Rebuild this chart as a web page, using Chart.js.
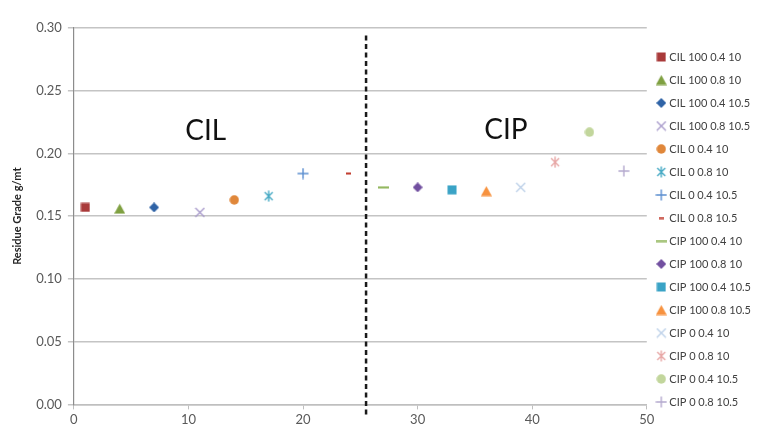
<!DOCTYPE html>
<html>
<head>
<meta charset="utf-8">
<script src="https://cdn.jsdelivr.net/npm/chart.js@4/dist/chart.umd.min.js"></script>
<style>
  html, body { margin: 0; padding: 0; background: #fff; }
  #wrap { width: 774px; height: 435px; }
</style>
</head>
<body>
<div id="wrap"><canvas id="chart"></canvas></div>
<script>
// Chart data
const seriesNames = [
    'CIL 100 0.4 10', 'CIL 100 0.8 10', 'CIL 100 0.4 10.5', 'CIL 100 0.8 10.5',
    'CIL 0 0.4 10', 'CIL 0 0.8 10', 'CIL 0 0.4 10.5', 'CIL 0 0.8 10.5',
    'CIP 100 0.4 10', 'CIP 100 0.8 10', 'CIP 100 0.4 10.5', 'CIP 100 0.8 10.5',
    'CIP 0 0.4 10', 'CIP 0 0.8 10', 'CIP 0 0.4 10.5', 'CIP 0 0.8 10.5'
];
const runIndex = [1, 4, 7, 11, 14, 17, 20, 24, 27, 30, 33, 36, 39, 42, 45, 48];
const residueGrade = [0.157, 0.156, 0.157, 0.153, 0.163, 0.166, 0.184, 0.184,
                      0.173, 0.173, 0.171, 0.170, 0.173, 0.193, 0.217, 0.186];
const dividerX = 25.5;
const yTicks = [0, 0.05, 0.10, 0.15, 0.20, 0.25, 0.30];
const xTicks = [0, 10, 20, 30, 40, 50];

// marker styles per series
const seriesColors = [
    '#A93A3A', '#7FA041', '#2F63A6', '#A89BCB', '#E0873A', '#45A9C4', '#5B8ED0', '#C0392B',
    '#8DB457', '#7250A0', '#3AA3C6', '#F7923F', '#BCD0E8', '#E7A6A5', '#C2D69C', '#B4A9CE'
];
const seriesMarkers = [
    'square', 'triangle', 'diamond', 'x', 'circle', 'asterisk', 'plus', 'dashSmall',
    'dash', 'diamond', 'square', 'triangle', 'x', 'asterisk', 'circle', 'plus'
];

const FONT = 'Lato, "Open Sans", sans-serif';

// Excel-like marker glyphs, used for both points and legend
function markerCanvas(kind, color) {
    const sizes = { square: 10, triangle: 11, diamond: 10, x: 11, circle: 10,
                    asterisk: 12, plus: 12, dash: 11, dashSmall: 5 };
    const s = sizes[kind];
    const c = document.createElement('canvas');
    c.width = s;
    c.height = (kind === 'dash' || kind === 'dashSmall') ? 3 : s;
    const ctx = c.getContext('2d');
    ctx.fillStyle = color;
    ctx.strokeStyle = color;
    ctx.lineWidth = 1.4;
    const m = s / 2;
    ctx.beginPath();
    switch (kind) {
        case 'square':
            ctx.fillRect(0.5, 0.5, s - 1, s - 1);
            break;
        case 'triangle':
            ctx.moveTo(m, 0.5); ctx.lineTo(s, s - 0.5); ctx.lineTo(0, s - 0.5);
            ctx.closePath(); ctx.fill();
            break;
        case 'diamond':
            ctx.moveTo(m, 0); ctx.lineTo(s, m); ctx.lineTo(m, s); ctx.lineTo(0, m);
            ctx.closePath(); ctx.fill();
            break;
        case 'circle':
            ctx.arc(m, m, m - 0.3, 0, Math.PI * 2); ctx.fill();
            break;
        case 'x':
            ctx.moveTo(1, 1); ctx.lineTo(s - 1, s - 1);
            ctx.moveTo(s - 1, 1); ctx.lineTo(1, s - 1); ctx.stroke();
            break;
        case 'asterisk':
            ctx.moveTo(2, 2); ctx.lineTo(s - 2, s - 2);
            ctx.moveTo(s - 2, 2); ctx.lineTo(2, s - 2);
            ctx.moveTo(m, 0.5); ctx.lineTo(m, s - 0.5); ctx.stroke();
            break;
        case 'plus':
            ctx.moveTo(m, 0.5); ctx.lineTo(m, s - 0.5);
            ctx.moveTo(0.5, m); ctx.lineTo(s - 0.5, m); ctx.stroke();
            break;
        default: // dash
            ctx.fillRect(0, 0.5, s, 2);
    }
    return c;
}

const datasets = seriesNames.map(function(name, i) {
    return {
        label: name,
        data: [{ x: runIndex[i], y: residueGrade[i] }],
        pointStyle: markerCanvas(seriesMarkers[i], seriesColors[i]),
        backgroundColor: seriesColors[i],
        borderColor: seriesColors[i]
    };
});

// dashed divider between CIL and CIP
datasets.push({
    type: 'line',
    label: '',
    data: [{ x: dividerX, y: -0.008 }, { x: dividerX, y: 0.295 }],
    borderColor: '#1a1a1a',
    borderWidth: 2.5,
    borderDash: [5, 3.5],
    pointRadius: 0,
    showLine: true,
    clip: false
});

// big region labels, placed in data coordinates
const regionLabels = {
    id: 'regionLabels',
    afterDatasetsDraw: function(chart) {
        const ctx = chart.ctx;
        const xs = chart.scales.x, ys = chart.scales.y;
        ctx.save();
        ctx.font = '28px ' + FONT;
        ctx.fillStyle = '#111';
        ctx.textAlign = 'center';
        ctx.textBaseline = 'middle';
        ctx.fillText('CIL', xs.getPixelForValue(11.5), ys.getPixelForValue(0.218));
        ctx.fillText('CIP', xs.getPixelForValue(37.7), ys.getPixelForValue(0.219));
        ctx.restore();
    }
};

new Chart(document.getElementById('chart'), {
    type: 'scatter',
    data: { datasets: datasets },
    options: {
        responsive: true,
        maintainAspectRatio: false,
        animation: false,
        layout: { padding: { left: 11, top: 28, right: 13, bottom: 4 } },
        plugins: {
            tooltip: { enabled: false },
            legend: {
                position: 'right',
                align: 'center',
                labels: {
                    usePointStyle: true,
                    boxWidth: 5,
                    boxHeight: 9,
                    padding: 12,
                    color: '#404040',
                    font: { family: FONT, size: 11 },
                    filter: function(item) { return item.text !== ''; }
                }
            }
        },
        scales: {
            x: {
                type: 'linear',
                min: xTicks[0],
                max: xTicks[xTicks.length - 1],
                afterBuildTicks: function(axis) {
                    axis.ticks = xTicks.map(function(v) { return { value: v }; });
                },
                grid: { drawOnChartArea: false, tickLength: 5, color: '#bfbfbf' },
                border: { color: '#bfbfbf', width: 1.5 },
                ticks: { color: '#595959', font: { family: FONT, size: 13 }, padding: 3 }
            },
            y: {
                min: yTicks[0],
                max: yTicks[yTicks.length - 1],
                afterBuildTicks: function(axis) {
                    axis.ticks = yTicks.map(function(v) { return { value: v }; });
                },
                grid: { color: '#c4c4c4', lineWidth: 1.5, tickLength: 6 },
                border: { color: '#8c8c8c', width: 1.2 },
                ticks: {
                    color: '#595959',
                    font: { family: FONT, size: 13 },
                    padding: 6,
                    callback: function(v) { return v.toFixed(2); }
                },
                title: {
                    display: true,
                    text: 'Residue Grade g/mt',
                    color: '#262626',
                    font: { family: FONT, size: 11, weight: 'bold' },
                    padding: { top: 0, bottom: 6 }
                }
            }
        }
    },
    plugins: [regionLabels]
});
</script>
</body>
</html>
